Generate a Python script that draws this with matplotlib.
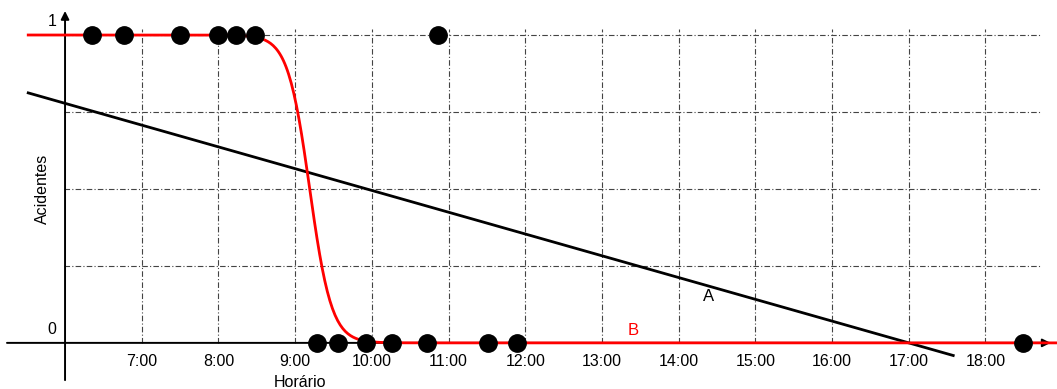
import numpy as np
import matplotlib.pyplot as plt

plt.rcParams['font.family'] = ['Liberation Sans', 'DejaVu Sans']

# dados (horas decimais)
hours = [7, 8, 9, 10, 11, 12, 13, 14, 15, 16, 17, 18]
hour_labels = ['7:00', '8:00', '9:00', '10:00', '11:00', '12:00',
               '13:00', '14:00', '15:00', '16:00', '17:00', '18:00']
acc_x = [6.35, 6.77, 7.50, 8.00, 8.23, 8.48, 10.86]
no_acc_x = [9.29, 9.56, 9.92, 10.26, 10.72, 11.52, 11.89, 18.49]
y_grid = [0.25, 0.5, 0.75, 1.0]

# reta A (dois pontos)
line_a_x = [5.52, 17.58]
line_a_y = [0.812, -0.041]

# curva logística B
b_x0 = 9.19
b_k = 7.0
b_range = [5.52, 18.95]

fig = plt.figure(figsize=(10.57, 3.89), dpi=100)
ax = fig.add_axes([0, 0, 1, 1])
ax.set_xlim(5.152, 18.933)
ax.set_ylim(-0.1498, 1.1137)
ax.axis('off')

grid_kw = dict(color='#444444', lw=0.8, linestyle=(0, (5, 2, 1, 2)), zorder=1)
for h in hours:
    ax.plot([h, h], [0, 1.02], **grid_kw)
for g in y_grid:
    ax.plot([5.98, 18.72], [g, g], **grid_kw)

# eixos com setas
ax.annotate('', xy=(18.85, 0), xytext=(5.243, 0),
            arrowprops=dict(arrowstyle='-|>', color='k', lw=1.4,
                            mutation_scale=12, shrinkA=0, shrinkB=0), zorder=2)
ax.annotate('', xy=(6.0, 1.078), xytext=(6.0, -0.121),
            arrowprops=dict(arrowstyle='-|>', color='k', lw=1.4,
                            mutation_scale=12, shrinkA=0, shrinkB=0), zorder=2)

ax.plot(line_a_x, line_a_y, color='k', lw=2.0, zorder=3)

xs = np.linspace(b_range[0], b_range[1], 800)
ax.plot(xs, 1 / (1 + np.exp(b_k * (xs - b_x0))), color='red', lw=2.0, zorder=4)

ax.plot(acc_x, [1] * len(acc_x), 'o', color='k', ms=12.5, zorder=5)
ax.plot(no_acc_x, [0] * len(no_acc_x), 'o', color='k', ms=12.5, zorder=5)

fs = 11.5
for h, lab in zip(hours, hour_labels):
    ax.text(h, -0.062, lab, ha='center', va='center', fontsize=fs)

ax.text(5.83, 1.045, '1', ha='center', va='center', fontsize=fs)
ax.text(5.83, 0.045, '0', ha='center', va='center', fontsize=fs)
ax.text(9.06, -0.128, 'Horário', ha='center', va='center', fontsize=fs)
ax.text(5.70, 0.5, 'Acidentes', ha='center', va='center', fontsize=fs,
        rotation=90)
ax.text(14.39, 0.15, 'A', ha='center', va='center', fontsize=12)
ax.text(13.41, 0.04, 'B', ha='center', va='center', fontsize=12, color='red')

fig.savefig('out.png', dpi=100)
